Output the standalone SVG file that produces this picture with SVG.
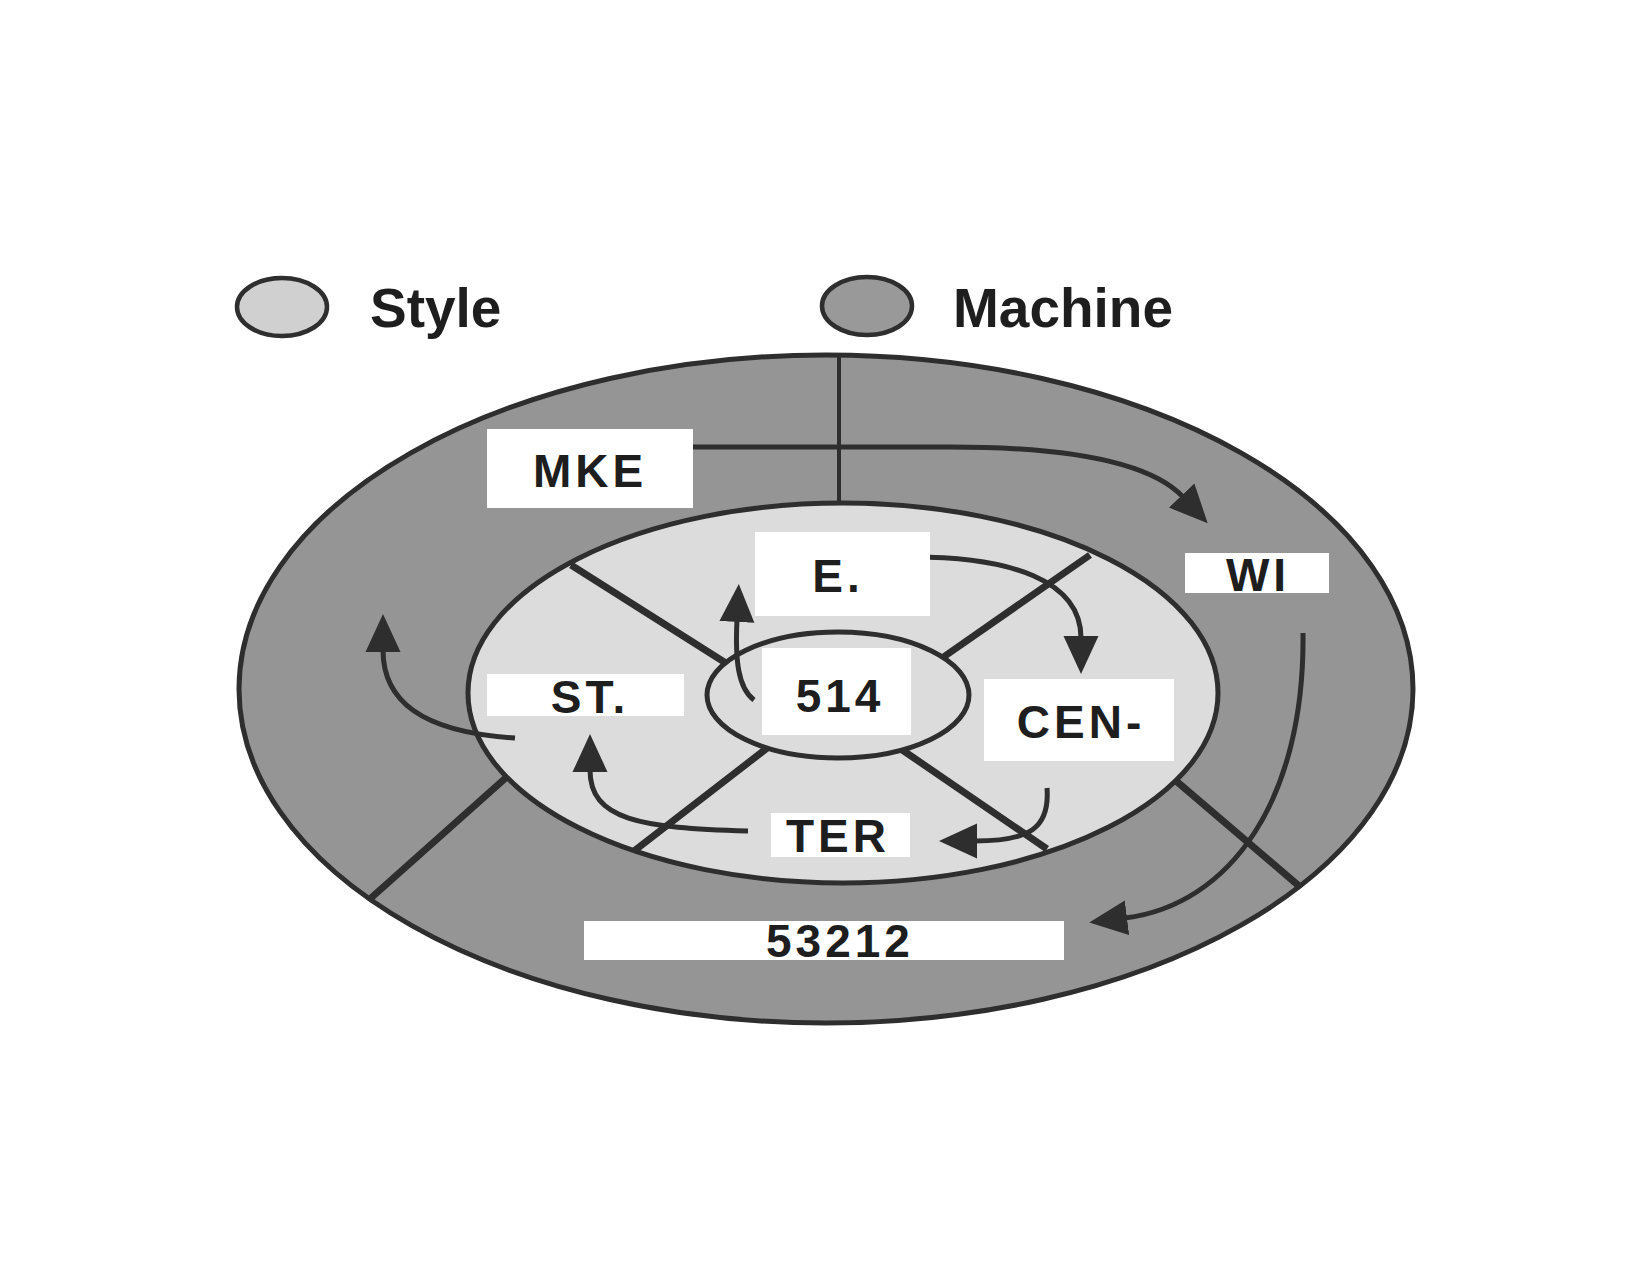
<svg xmlns="http://www.w3.org/2000/svg" width="1650" height="1275" viewBox="0 0 1650 1275">
  <defs>
    <style>
      .ring-outer { fill: #959595; stroke: #2e2e2e; stroke-width: 5; }
      .ring-inner { fill: #dcdcdc; stroke: #2e2e2e; stroke-width: 5; }
      .core { fill: #dcdcdc; stroke: #2e2e2e; stroke-width: 5; }
      .divider { stroke: #2e2e2e; stroke-width: 7; fill: none; }
      .divider-thin { stroke: #2e2e2e; stroke-width: 4; fill: none; }
      .arrow { stroke: #2e2e2e; stroke-width: 5; fill: none; marker-end: url(#ah); }
      .box { fill: #ffffff; }
      .lbl { font-family: "Liberation Sans", Arial, sans-serif; font-weight: bold; font-size: 46px; letter-spacing: 4px; fill: #1e1e1e; text-anchor: middle; }
      .legend { font-family: "Liberation Sans", Arial, sans-serif; font-weight: bold; font-size: 55px; fill: #1e1e1e; }
    </style>
    <marker id="ah" markerUnits="userSpaceOnUse" viewBox="0 -18 40 36" markerWidth="40" markerHeight="36" refX="2" refY="0" orient="auto">
      <path d="M0,-17.5 L38,0 L0,17.5 z" fill="#2e2e2e"/>
    </marker>
  </defs>
  <rect width="1650" height="1275" fill="#ffffff"/>

  <g id="legend-style">
    <ellipse cx="282" cy="307" rx="45" ry="29" fill="#d0d0d0" stroke="#2e2e2e" stroke-width="4.5"/>
    <text class="legend" x="370" y="327">Style</text>
  </g>
  <g id="legend-machine">
    <ellipse cx="867" cy="306" rx="45" ry="29" fill="#999999" stroke="#2e2e2e" stroke-width="4.5"/>
    <text class="legend" x="953" y="327">Machine</text>
  </g>

  <g id="machine-ring">
    <ellipse class="ring-outer" cx="826" cy="689" rx="587" ry="334"/>
    <line class="divider-thin" x1="839" y1="356" x2="839" y2="512"/>
    <line class="divider" x1="510" y1="774" x2="371" y2="898"/>
    <line class="divider" x1="1168" y1="774" x2="1299" y2="886"/>
  </g>

  <g id="style-ring">
    <ellipse class="ring-inner" cx="843" cy="693" rx="375" ry="190"/>
    <line class="divider" x1="571" y1="565" x2="740" y2="672"/>
    <line class="divider" x1="1090" y1="555" x2="932" y2="665"/>
    <line class="divider" x1="775" y1="742" x2="634" y2="851"/>
    <line class="divider" x1="895" y1="745" x2="1047" y2="849"/>
  </g>

  <g id="core">
    <ellipse class="core" cx="838" cy="695" rx="131" ry="63"/>
  </g>

  <g id="connectors">
    <path class="arrow" d="M693,447 L950,447 C1065,447 1150,462 1183,497"/>
    <path class="arrow" d="M913,557 C1010,557 1081,580 1081,638"/>
    <path class="arrow" d="M754,700 C738,688 735,660 737,620"/>
    <path class="arrow" d="M748,831 C640,828 590,820 590,770"/>
    <path class="arrow" d="M515,738 C420,732 383,700 383,650"/>
    <path class="arrow" d="M1047,788 C1050,828 1030,841 975,841"/>
    <path class="arrow" d="M1303,633 C1305,800 1230,905 1125,918"/>
  </g>

  <g id="node-mke">
    <rect class="box" x="487" y="429" width="206" height="79"/>
    <text class="lbl" x="590" y="487">MKE</text>
  </g>
  <g id="node-wi">
    <rect class="box" x="1185" y="553" width="144" height="40"/>
    <text class="lbl" x="1258" y="591">WI</text>
  </g>
  <g id="node-e">
    <rect class="box" x="755" y="532" width="175" height="84"/>
    <text class="lbl" x="838" y="592">E.</text>
  </g>
  <g id="node-st">
    <rect class="box" x="487" y="674" width="197" height="42"/>
    <text class="lbl" x="590" y="713">ST.</text>
  </g>
  <g id="node-514">
    <rect class="box" x="762" y="648" width="149" height="87"/>
    <text class="lbl" x="840" y="712">514</text>
  </g>
  <g id="node-cen">
    <rect class="box" x="984" y="679" width="190" height="82"/>
    <text class="lbl" x="1081" y="738">CEN-</text>
  </g>
  <g id="node-ter">
    <rect class="box" x="771" y="813" width="139" height="44"/>
    <text class="lbl" x="838" y="852">TER</text>
  </g>
  <g id="node-53212">
    <rect class="box" x="584" y="921" width="480" height="39"/>
    <text class="lbl" x="840" y="957">53212</text>
  </g>
</svg>
